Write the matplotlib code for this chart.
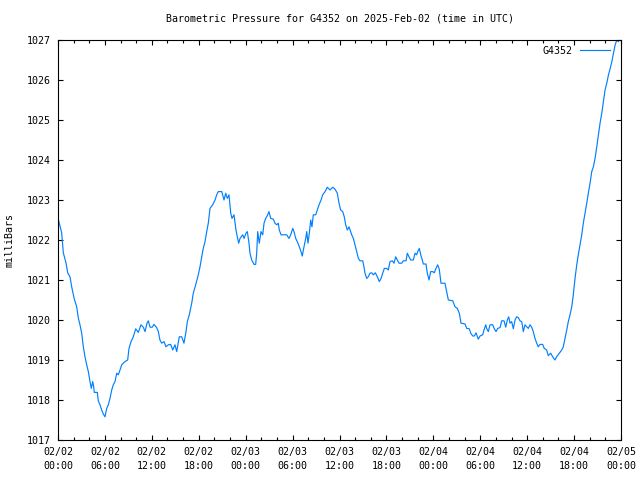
import matplotlib
matplotlib.use("Agg")
import matplotlib.pyplot as plt
import numpy as np

# hours since 2025-02-02 00:00 UTC
hours = [0.00, 0.47, 0.68, 1.02, 1.24, 1.53, 1.75, 2.05, 2.39, 2.60, 2.81, 3.03, 3.24, 3.45, 3.67, 3.88,
         4.09, 4.26, 4.44, 4.57, 4.64, 5.03, 5.15, 5.37, 5.59, 5.79, 6.01, 6.23, 6.43, 6.65, 6.87, 7.07,
         7.29, 7.51, 7.71, 7.93, 8.15, 8.57, 8.91, 9.08, 9.34, 9.63, 9.94, 10.27, 10.61, 10.91, 11.13,
         11.38, 11.55, 11.77, 12.06, 12.28, 12.62, 12.83, 13.04, 13.26, 13.56, 13.81, 14.11, 14.41, 14.67,
         14.96, 15.18, 15.51, 15.82, 16.11, 16.37, 16.54, 16.79, 17.10, 17.30, 17.61, 17.94, 18.16, 18.38,
         18.58, 18.80, 19.02, 19.22, 19.44, 19.78, 20.08, 20.30, 20.50, 20.94, 21.23, 21.45, 21.65, 21.87,
         22.09, 22.25, 22.51, 22.76, 22.93, 23.11, 23.28, 23.62, 23.79, 24.04, 24.21, 24.43, 24.55, 24.77,
         25.07, 25.28, 25.41, 25.54, 25.74, 25.96, 26.18, 26.35, 26.56, 26.82, 26.98, 27.20, 27.53, 27.75,
         27.97, 28.17, 28.30, 28.52, 29.25, 29.54, 29.76, 30.02, 30.18, 30.40, 30.60, 30.86, 31.08, 31.24,
         31.46, 31.68, 31.81, 31.97, 32.14, 32.32, 32.48, 32.65, 32.96, 33.16, 33.38, 33.64, 33.85, 34.15,
         34.44, 34.79, 35.13, 35.43, 35.72, 35.94, 36.15, 36.41, 36.61, 36.79, 37.00, 37.22, 37.56, 37.77,
         37.98, 38.20, 38.41, 38.62, 38.97, 39.13, 39.26, 39.48, 39.68, 39.90, 40.12, 40.32, 40.58, 40.84,
         41.09, 41.31, 41.53, 41.73, 42.04, 42.24, 42.46, 42.75, 42.97, 43.19, 43.39, 43.61, 43.96, 44.16,
         44.51, 44.67, 44.89, 45.11, 45.44, 45.66, 45.87, 46.00, 46.21, 46.39, 46.59, 46.72, 47.06, 47.23,
         47.45, 47.66, 47.92, 48.12, 48.34, 48.56, 48.76, 48.98, 49.49, 49.71, 49.92, 50.48, 50.77, 51.07,
         51.32, 51.54, 52.05, 52.27, 52.60, 52.78, 53.04, 53.24, 53.46, 53.75, 53.97, 54.31, 54.48, 54.70,
         54.82, 55.03, 55.25, 55.59, 55.80, 56.02, 56.23, 56.53, 56.75, 57.04, 57.26, 57.46, 57.64, 57.81,
         58.02, 58.23, 58.45, 58.66, 58.87, 59.08, 59.30, 59.51, 59.72, 59.94, 60.15, 60.36, 60.58, 60.78,
         61.00, 61.22, 61.42, 61.64, 61.98, 62.19, 62.49, 62.70, 63.01, 63.26, 63.56, 63.77, 64.11, 64.42,
         64.62, 64.84, 65.06, 65.26, 65.48, 65.70, 65.90, 66.12, 66.34, 66.54, 66.76, 66.98, 67.18, 67.40,
         67.62, 67.82, 68.04, 68.26, 68.47, 68.68, 68.90, 69.11, 69.32, 69.54, 69.75, 69.96, 70.18, 70.40,
         70.62, 70.83, 71.04, 71.25, 71.47, 71.68]

pressure = [1022.55, 1022.18, 1021.68, 1021.43, 1021.18, 1021.08, 1020.83, 1020.55, 1020.33, 1020.05,
            1019.88, 1019.67, 1019.33, 1019.08, 1018.88, 1018.71, 1018.46, 1018.29, 1018.46, 1018.33,
            1018.19, 1018.19, 1017.98, 1017.88, 1017.75, 1017.65, 1017.58, 1017.79, 1017.88, 1018.04,
            1018.25, 1018.38, 1018.46, 1018.67, 1018.63, 1018.75, 1018.88, 1018.96, 1019.00, 1019.29,
            1019.46, 1019.58, 1019.78, 1019.69, 1019.88, 1019.82, 1019.71, 1019.92, 1019.98, 1019.82,
            1019.82, 1019.89, 1019.81, 1019.71, 1019.50, 1019.42, 1019.46, 1019.33, 1019.38, 1019.39,
            1019.25, 1019.38, 1019.21, 1019.58, 1019.58, 1019.42, 1019.71, 1019.96, 1020.13, 1020.42,
            1020.67, 1020.88, 1021.13, 1021.33, 1021.58, 1021.79, 1021.96, 1022.21, 1022.42, 1022.79,
            1022.88, 1023.00, 1023.13, 1023.21, 1023.21, 1023.00, 1023.17, 1023.04, 1023.13, 1022.67,
            1022.54, 1022.63, 1022.25, 1022.08, 1021.92, 1022.04, 1022.13, 1022.04, 1022.17, 1022.21,
            1021.92, 1021.67, 1021.50, 1021.39, 1021.39, 1021.67, 1022.21, 1021.92, 1022.21, 1022.13,
            1022.42, 1022.54, 1022.63, 1022.71, 1022.54, 1022.52, 1022.42, 1022.38, 1022.42, 1022.25,
            1022.13, 1022.13, 1022.04, 1022.13, 1022.29, 1022.21, 1022.04, 1021.96, 1021.83, 1021.71,
            1021.60, 1021.83, 1022.04, 1022.21, 1021.92, 1022.17, 1022.50, 1022.33, 1022.63, 1022.63,
            1022.75, 1022.88, 1023.00, 1023.13, 1023.21, 1023.32, 1023.25, 1023.32, 1023.27, 1023.17,
            1022.92, 1022.75, 1022.71, 1022.58, 1022.38, 1022.25, 1022.33, 1022.13, 1022.04, 1021.88,
            1021.71, 1021.54, 1021.48, 1021.48, 1021.33, 1021.17, 1021.04, 1021.08, 1021.17, 1021.18,
            1021.13, 1021.18, 1021.08, 1020.96, 1021.04, 1021.17, 1021.29, 1021.29, 1021.25, 1021.46,
            1021.48, 1021.42, 1021.58, 1021.50, 1021.42, 1021.42, 1021.48, 1021.48, 1021.67, 1021.58,
            1021.50, 1021.50, 1021.67, 1021.63, 1021.71, 1021.79, 1021.63, 1021.50, 1021.40, 1021.40,
            1021.17, 1021.00, 1021.21, 1021.21, 1021.18, 1021.29, 1021.38, 1021.27, 1020.92, 1020.92,
            1020.71, 1020.50, 1020.48, 1020.33, 1020.29, 1020.17, 1019.92, 1019.90, 1019.79, 1019.78,
            1019.67, 1019.60, 1019.60, 1019.68, 1019.52, 1019.60, 1019.63, 1019.75, 1019.88, 1019.79,
            1019.71, 1019.88, 1019.88, 1019.78, 1019.71, 1019.79, 1019.81, 1019.98, 1019.98, 1019.82,
            1020.00, 1020.08, 1019.92, 1019.96, 1019.78, 1020.00, 1020.08, 1020.06, 1019.98, 1019.96,
            1019.71, 1019.88, 1019.83, 1019.79, 1019.88, 1019.82, 1019.71, 1019.54, 1019.42, 1019.33,
            1019.39, 1019.39, 1019.29, 1019.25, 1019.11, 1019.17, 1019.08, 1019.00, 1019.08, 1019.17,
            1019.25, 1019.33, 1019.54, 1019.75, 1019.96, 1020.13, 1020.33, 1020.63, 1021.04, 1021.38,
            1021.63, 1021.88, 1022.13, 1022.42, 1022.67, 1022.92, 1023.17, 1023.42, 1023.71, 1023.83,
            1024.04, 1024.33, 1024.63, 1024.92, 1025.17, 1025.46, 1025.75, 1025.92, 1026.13, 1026.29,
            1026.46, 1026.67, 1026.88, 1027.00, 1026.96]

xtick_hours = [0, 6, 12, 18, 24, 30, 36, 42, 48, 54, 60, 66, 72]
xtick_labels = ["02/02\n00:00", "02/02\n06:00", "02/02\n12:00", "02/02\n18:00",
                "02/03\n00:00", "02/03\n06:00", "02/03\n12:00", "02/03\n18:00",
                "02/04\n00:00", "02/04\n06:00", "02/04\n12:00", "02/04\n18:00",
                "02/05\n00:00"]
yticks = [1017, 1018, 1019, 1020, 1021, 1022, 1023, 1024, 1025, 1026, 1027]

plt.rcParams['font.family'] = ['DejaVu Sans Mono']
fs = 7.2

fig = plt.figure(figsize=(6.4, 4.8), dpi=100)
ax = fig.add_axes([58/640, 40/480, 563/640, 400/480])
ax.plot(hours, pressure, color='#0080ff', lw=0.85, label='G4352')
ax.set_xlim(0, 72)
ax.set_ylim(1017, 1027)
ax.set_xticks(xtick_hours)
ax.set_xticklabels(xtick_labels, fontsize=fs, linespacing=1.45)
ax.set_xticks(np.arange(0, 73, 2), minor=True)
ax.set_yticks(yticks)
ax.set_yticklabels([str(v) for v in yticks], fontsize=fs)
ax.tick_params(which='major', direction='in', length=3.5, width=0.8, top=True, right=True, pad=5)
ax.tick_params(which='minor', direction='in', length=2, width=0.8, top=True, right=False)
ax.tick_params(axis='y', which='minor', left=False, right=False)
for s in ax.spines.values():
    s.set_linewidth(0.8)
ax.set_ylabel('milliBars', fontsize=fs, labelpad=9)
ax.set_title('Barometric Pressure for G4352 on 2025-Feb-02 (time in UTC)', fontsize=fs, pad=13)
leg = ax.legend(loc='upper right', bbox_to_anchor=(0.9876, 0.995), frameon=False,
                markerfirst=False, fontsize=fs, handlelength=3.0, borderaxespad=0.0,
                handletextpad=0.8)
fig.savefig('out.png', dpi=100)
